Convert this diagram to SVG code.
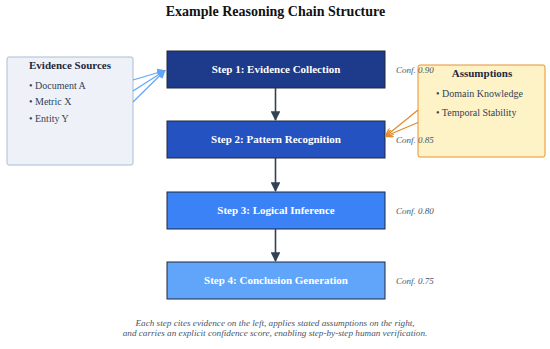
<svg xmlns="http://www.w3.org/2000/svg" width="550" height="349" viewBox="0 0 550 349">
<defs>
<style>
text{font-family:"Liberation Serif","Times New Roman",serif}
.title{font-size:14px;font-weight:bold;fill:#111}
.step rect{stroke:#1e293b;stroke-width:1}
.step text{font-size:11px;font-weight:bold;fill:#fff;text-anchor:middle}
.conf{font-size:9px;font-style:italic;fill:#475569}
.hdr{font-size:11px;font-weight:bold;fill:#1e293b;text-anchor:middle}
.item{font-size:10px;fill:#334155}
.cap{font-size:9.2px;font-style:italic;fill:#475569;text-anchor:middle}
.flow{stroke:#334155;stroke-width:1.6;fill:none}
.ev{stroke:#60a5fa;stroke-width:1.2;fill:none}
.as{stroke:#e08a2a;stroke-width:1.2;fill:none}
</style>
<marker id="mflow" viewBox="0 0 10 10" refX="9" refY="5" markerWidth="6" markerHeight="6" orient="auto"><path d="M0,0 L10,5 L0,10 z" fill="#334155"/></marker>
<marker id="mev" viewBox="0 0 10 10" refX="9" refY="5" markerWidth="7" markerHeight="7" orient="auto"><path d="M0,0 L10,5 L0,10 z" fill="#60a5fa"/></marker>
<marker id="mas" viewBox="0 0 10 10" refX="9" refY="5" markerWidth="7" markerHeight="7" orient="auto"><path d="M0,0 L10,5 L0,10" fill="none" stroke="#e08a2a" stroke-width="1.5"/></marker>
</defs>
<rect width="550" height="349" fill="#fff"/>
<text class="title" x="275.5" y="16" text-anchor="middle">Example Reasoning Chain Structure</text>

<g id="evidence">
<rect x="7" y="57" width="126" height="108" rx="2" fill="#eef2f8" stroke="#a9bcd6" stroke-width="1"/>
<text class="hdr" x="70" y="69">Evidence Sources</text>
<text class="item" x="29" y="89">• Document A</text>
<text class="item" x="29" y="105">• Metric X</text>
<text class="item" x="29" y="122">• Entity Y</text>
</g>

<g id="assumptions">
<rect x="418" y="65" width="127" height="92" rx="2" fill="#fef3c7" stroke="#e8922e" stroke-width="1"/>
<text class="hdr" x="482" y="77">Assumptions</text>
<text class="item" x="436" y="97">• Domain Knowledge</text>
<text class="item" x="436" y="116">• Temporal Stability</text>
</g>

<g id="step1" class="step"><rect x="167" y="51" width="218" height="37" fill="#1e3a8a"/><text x="276" y="73">Step 1: Evidence Collection</text></g>
<g id="step2" class="step"><rect x="167" y="121" width="218" height="37" fill="#2452c0"/><text x="276" y="143">Step 2: Pattern Recognition</text></g>
<g id="step3" class="step"><rect x="167" y="192" width="218" height="37" fill="#3b82f6"/><text x="276" y="214">Step 3: Logical Inference</text></g>
<g id="step4" class="step"><rect x="167" y="262" width="218" height="37" fill="#60a5fa"/><text x="276" y="284">Step 4: Conclusion Generation</text></g>

<g id="confidences">
<text class="conf" x="396" y="73">Conf. 0.90</text>
<text class="conf" x="396" y="143">Conf. 0.85</text>
<text class="conf" x="396" y="214">Conf. 0.80</text>
<text class="conf" x="396" y="284">Conf. 0.75</text>
</g>

<g id="connectors">
<line class="flow" x1="275.5" y1="88" x2="275.5" y2="120" marker-end="url(#mflow)"/>
<line class="flow" x1="275.5" y1="158" x2="275.5" y2="191" marker-end="url(#mflow)"/>
<line class="flow" x1="275.5" y1="229" x2="275.5" y2="261" marker-end="url(#mflow)"/>
<line class="ev" x1="133" y1="80" x2="165" y2="70.5" marker-end="url(#mev)"/>
<line class="ev" x1="133" y1="91" x2="165" y2="70.5" marker-end="url(#mev)"/>
<line class="ev" x1="133" y1="102" x2="165" y2="70.5" marker-end="url(#mev)"/>
<line class="as" x1="418" y1="110" x2="386" y2="136" marker-end="url(#mas)"/>
<line class="as" x1="418" y1="122.5" x2="386" y2="136" marker-end="url(#mas)"/>
</g>

<text class="cap" x="275" y="326">Each step cites evidence on the left, applies stated assumptions on the right,</text>
<text class="cap" x="275" y="336">and carries an explicit confidence score, enabling step-by-step human verification.</text>
</svg>
